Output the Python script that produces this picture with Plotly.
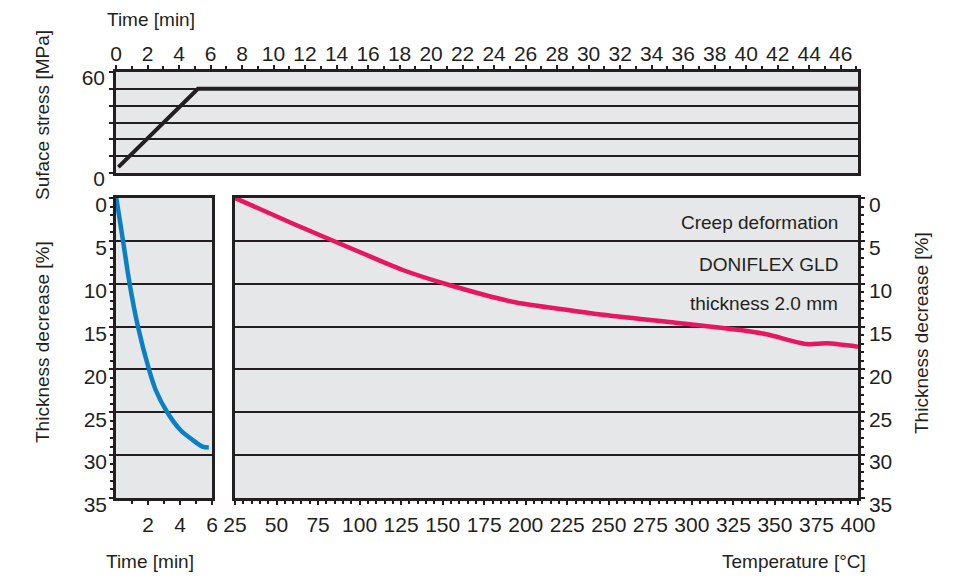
import plotly.graph_objects as go

# ---- data ----
stress_time = [0.15, 5.2, 47.1]
stress_mpa = [3.5, 50, 50]

creep_time = [0.02, 0.44, 0.85, 1.37, 2.06, 2.48, 3.2, 4.04, 4.77, 5.4, 5.8]
creep_time_pct = [0, 5, 10, 15, 20, 22.4, 25, 27.1, 28.2, 29.0, 29.1]

temp_c = [25, 60, 100, 126, 154, 192, 221, 245, 293, 329, 345, 369, 381, 400]
temp_pct = [0, 3.0, 6.3, 8.4, 10.15, 12.1, 12.95, 13.6, 14.6, 15.4, 15.9, 17.04, 16.96, 17.35]

top_ticks = list(range(0, 47, 2))
pct_ticks = [0, 5, 10, 15, 20, 25, 30, 35]
temp_ticks = list(range(25, 401, 25))
left_time_ticks = [2, 4, 6]
stress_ticks = [0, 60]
stress_grid = [10, 20, 30, 40, 50]

# the page body has an 8px default margin, so the figure is drawn 8px in
OFF = 8
W, H = 966 - OFF, 579 - OFF
FONT = "Liberation Sans, Arial, sans-serif"
FS = 21
FT = 19
TXT = "#231f20"
BG = "#e6e7e8"
GRID = "#231f20"

def dx(a, b):
    return [(a - OFF) / W, (b - OFF) / W]

def dy(top, bottom):
    return [1 - (bottom - OFF) / H, 1 - (top - OFF) / H]

fig = go.Figure()

fig.add_trace(go.Scatter(x=stress_time, y=stress_mpa, mode="lines",
                         line=dict(color="#231f20", width=4), xaxis="x", yaxis="y",
                         showlegend=False, hoverinfo="skip"))
fig.add_trace(go.Scatter(x=creep_time, y=creep_time_pct, mode="lines",
                         line=dict(color="#0a7fc4", width=4.5, shape="spline", smoothing=0.8),
                         xaxis="x2", yaxis="y2", showlegend=False, hoverinfo="skip"))
fig.add_trace(go.Scatter(x=temp_c, y=temp_pct, mode="lines",
                         line=dict(color="#e8175d", width=4.5, shape="spline", smoothing=0.8),
                         xaxis="x3", yaxis="y3", showlegend=False, hoverinfo="skip"))

axis_common = dict(showline=True, linewidth=2.5, linecolor="#231f20", mirror=True,
                   zeroline=False, automargin=False,
                   tickfont=dict(family=FONT, size=FS, color=TXT),
                   ticks="outside", ticklen=4, tickcolor="#231f20", tickwidth=1.5)

fig.update_layout(
    width=W, height=H,
    margin=dict(l=0, r=0, t=0, b=0, autoexpand=False),
    paper_bgcolor="white",
    plot_bgcolor=BG,
    font=dict(family=FONT, size=FS, color=TXT),
    xaxis=dict(domain=dx(116, 858), range=[0, 47.1], side="top", anchor="y",
               tickvals=top_ticks, showgrid=False,
               minor=dict(dtick=1, tick0=0, ticks="outside", ticklen=3, tickcolor="#231f20"),
               ticklabelstandoff=-4, **axis_common),
    yaxis=dict(domain=dy(72, 173), range=[0, 60], anchor="x",
               tickvals=stress_ticks, showgrid=False, ticklabelshift=6,
               minor=dict(tickvals=stress_grid, ticks="outside", ticklen=4, showgrid=True,
                          gridcolor=GRID, gridwidth=1.5),
               **axis_common),
    xaxis2=dict(domain=dx(116, 212), range=[0, 6], anchor="y2",
                tickvals=left_time_ticks, showgrid=False,
                minor=dict(tickvals=[1, 3, 5], ticks="outside", ticklen=3, tickcolor="#231f20"),
                ticklabelstandoff=2, **axis_common),
    yaxis2=dict(domain=dy(198, 498), range=[35, 0], anchor="x2",
                tickvals=pct_ticks, showgrid=True, gridcolor=GRID, gridwidth=1.5,
                ticklabelstandoff=-2, ticklabelshift=-7,
                minor=dict(dtick=1, tick0=0, ticks="outside", ticklen=3, tickcolor="#231f20"),
                **axis_common),
    xaxis3=dict(domain=dx(235, 858), range=[25, 400], anchor="y3",
                tickvals=temp_ticks, showgrid=False,
                minor=dict(dtick=5, tick0=25, ticks="outside", ticklen=3, tickcolor="#231f20"),
                ticklabelstandoff=2, **axis_common),
    yaxis3=dict(domain=dy(198, 498), range=[35, 0], anchor="x3", side="right",
                tickvals=pct_ticks, showgrid=True, gridcolor=GRID, gridwidth=1.5,
                ticklabelshift=-7,
                minor=dict(dtick=1, tick0=0, ticks="outside", ticklen=3, tickcolor="#231f20"),
                **axis_common),
)

def ann(text, x, y, xanchor="center", yanchor="middle", angle=0, size=FT):
    fig.add_annotation(text=text, x=(x - OFF) / W, y=1 - (y - OFF) / H, xref="paper", yref="paper",
                       xanchor=xanchor, yanchor=yanchor, textangle=angle, showarrow=False,
                       font=dict(family=FONT, size=size, color=TXT))

ann("Time [min]", 105, 20, xanchor="left")
ann("Suface stress [MPa]", 42, 115, angle=-90)
ann("Thickness decrease [%]", 42, 342, angle=-90)
ann("Time [min]", 150, 561)
ann("Temperature [°C]", 868, 561, xanchor="right")
ann("Thickness decrease [%]", 921, 333, angle=-90)

for txt, yv in [("Creep deformation", 2.8), ("DONIFLEX GLD", 7.8), ("thickness 2.0 mm", 12.25)]:
    fig.add_annotation(text=txt, x=389, y=yv, xref="x3", yref="y3", xanchor="right",
                       yanchor="middle", showarrow=False,
                       font=dict(family=FONT, size=FT, color=TXT))

fig.write_html("out.html")
